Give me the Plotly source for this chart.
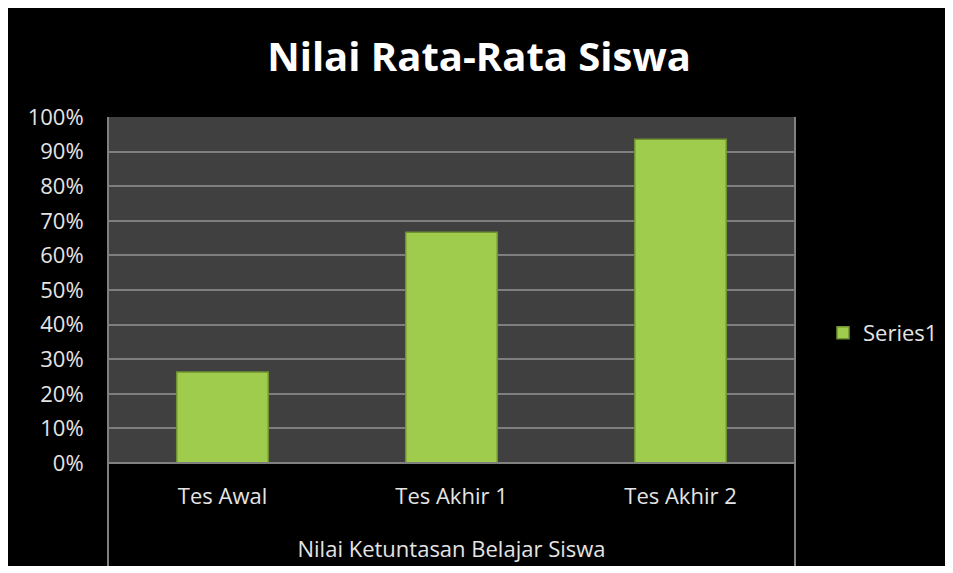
import plotly.graph_objects as go

categories = ["Tes Awal", "Tes Akhir 1", "Tes Akhir 2"]
values = [0.263, 0.667, 0.936]
series_name = "Series1"
title_text = "Nilai Rata-Rata Siswa"
x_title = "Nilai Ketuntasan Belajar Siswa"
tick_vals = [i / 10 for i in range(11)]
tick_text = [f"{i*10}%" for i in range(11)]

FONT = "Open Sans"
TXT = "#e4e4e4"
OFF = 8  # page body margin
W, H = 941, 558
# plot area bounds in page pixels (reference)
PL, PR, PT, PB = 108, 795, 117, 463
L, R, T, B = PL - OFF, PR - OFF, PT - OFF, PB - OFF


def px_x(px):
    return (px - OFF - L) / (R - L)


def px_y(py):
    return (B - (py - OFF)) / (B - T)


fig = go.Figure()
fig.add_trace(go.Bar(
    x=categories, y=values, name=series_name,
    marker=dict(color="#a0cc4d", line=dict(color="#6f9130", width=1.5)),
    showlegend=True,
))

shapes = [
    dict(type="rect", xref="paper", yref="paper", layer="below",
         x0=0, x1=1, y0=0, y1=1, fillcolor="#404040", line=dict(width=0)),
    dict(type="line", xref="paper", yref="paper", x0=0, x1=0,
         y0=px_y(566), y1=1, line=dict(color="#808080", width=2)),
    dict(type="line", xref="paper", yref="paper", x0=1, x1=1,
         y0=px_y(566), y1=1, line=dict(color="#808080", width=2)),
    dict(type="line", xref="paper", yref="paper", x0=0, x1=1,
         y0=0, y1=0, line=dict(color="#808080", width=2)),
]

fig.update_layout(
    width=W, height=H,
    paper_bgcolor="black",
    plot_bgcolor="rgba(0,0,0,0)",
    margin=dict(l=L, r=W - R, t=T, b=H - B, pad=0, autoexpand=False),
    title=dict(text=f"<b>{title_text}</b>", x=(479 - OFF) / W, xanchor="center",
               y=1 - (57 - OFF) / H, yanchor="middle",
               font=dict(family=FONT, size=40, color="white")),
    bargap=0.6,
    shapes=shapes,
    legend=dict(x=px_x(823), y=px_y(333), xanchor="left", yanchor="middle",
                font=dict(family=FONT, size=22, color=TXT),
                bgcolor="rgba(0,0,0,0)", itemwidth=30),
    font=dict(family=FONT, color=TXT),
)

fig.update_yaxes(
    range=[0, 1], tickvals=tick_vals, ticktext=tick_text,
    showgrid=True, gridcolor="#7f7f7f", gridwidth=2,
    zeroline=False, showline=False, automargin=False,
    tickfont=dict(family=FONT, size=22, color=TXT),
    ticks="outside", ticklen=19, tickcolor="rgba(0,0,0,0)",
)
fig.update_xaxes(
    showgrid=False, showline=False, zeroline=False, automargin=False,
    tickfont=dict(family=FONT, size=22, color=TXT),
    ticks="outside", ticklen=14, tickcolor="rgba(0,0,0,0)",
    title=dict(text=x_title, standoff=32,
               font=dict(family=FONT, size=22, color=TXT)),
)

fig.write_html("out.html")
